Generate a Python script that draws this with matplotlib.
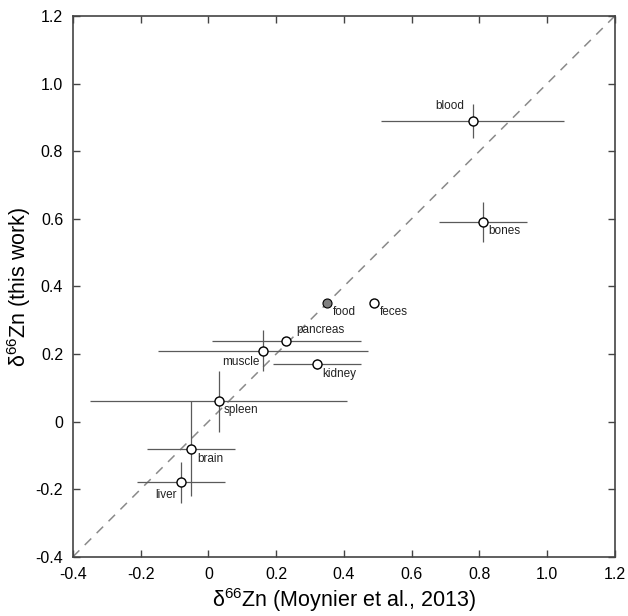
import numpy as np
import matplotlib.pyplot as plt

plt.rcParams['font.family'] = ['Liberation Sans', 'DejaVu Sans']

tissue = ['blood', 'bones', 'feces', 'pancreas', 'muscle', 'kidney',
          'spleen', 'brain', 'liver']
x_lit = [0.78, 0.81, 0.49, 0.23, 0.16, 0.32, 0.03, -0.05, -0.08]
x_err = [0.27, 0.13, 0.0, 0.22, 0.31, 0.13, 0.38, 0.13, 0.13]
y_this = [0.89, 0.59, 0.35, 0.24, 0.21, 0.17, 0.06, -0.08, -0.18]
y_err = [0.05, 0.06, 0.0, 0.0, 0.06, 0.015, 0.09, 0.14, 0.06]

food_x = 0.35
food_y = 0.35

# label offsets in points (dx, dy, ha, va)
label_pos = {
    'blood': (-6, 6, 'right', 'bottom'),
    'bones': (4, -2, 'left', 'top'),
    'feces': (4, -2, 'left', 'top'),
    'pancreas': (7, 3, 'left', 'bottom'),
    'muscle': (-2, -4, 'right', 'top'),
    'kidney': (4, -3, 'left', 'top'),
    'spleen': (4, -2, 'left', 'top'),
    'brain': (4, -3, 'left', 'top'),
    'liver': (-3, -5, 'right', 'top'),
}

fig = plt.figure(figsize=(6.28, 6.16), dpi=100)
ax = fig.add_axes([0.116, 0.096, 0.863, 0.878])

ax.plot([-0.4, 1.2], [-0.4, 1.2], ls=(0, (6, 5)), color='#8a8a8a', lw=1.1, zorder=1)

ax.errorbar(x_lit, y_this, xerr=x_err, yerr=y_err, fmt='none',
            ecolor='#5a5a5a', elinewidth=0.9, capsize=0, zorder=2)
ax.plot(x_lit, y_this, 'o', ms=6.5, mfc='white', mec='black', mew=1.0,
        ls='none', zorder=3)
ax.plot(food_x, food_y, 'o', ms=6.5, mfc='#808080', mec='black', mew=0.8,
        ls='none', zorder=3)

for name, xv, yv in zip(tissue, x_lit, y_this):
    dx, dy, ha, va = label_pos[name]
    ax.annotate(name, (xv, yv), xytext=(dx, dy), textcoords='offset points',
                ha=ha, va=va, fontsize=8.5, color='#222222')
ax.annotate('food', (food_x, food_y), xytext=(4, -2), textcoords='offset points',
            ha='left', va='top', fontsize=8.5, color='#222222')

ax.set_xlim(-0.4, 1.2)
ax.set_ylim(-0.4, 1.2)
ticks = np.arange(-0.4, 1.21, 0.2)
labels = ['-0.4', '-0.2', '0', '0.2', '0.4', '0.6', '0.8', '1.0', '1.2']
ax.set_xticks(ticks)
ax.set_xticklabels(labels)
ax.set_yticks(ticks)
ax.set_yticklabels(labels)
ax.tick_params(direction='in', top=True, right=True, length=5, width=1,
               labelsize=11.5, pad=7, color='#444444')
for s in ax.spines.values():
    s.set_linewidth(1.2)
    s.set_color('#444444')

ax.set_xlabel('δ$^{\\mathregular{66}}$Zn (Moynier et al., 2013)', fontsize=15.5, labelpad=3)
ax.set_ylabel('δ$^{\\mathregular{66}}$Zn (this work)', fontsize=15.5, labelpad=2)

fig.savefig('out.png', dpi=100)
